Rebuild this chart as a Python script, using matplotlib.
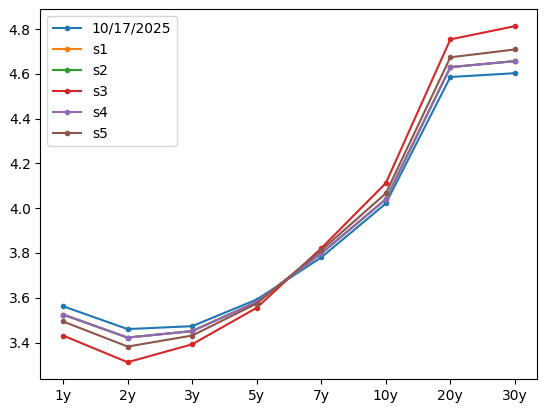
import matplotlib.pyplot as plt

# tenors on the x axis
tenors = ["1y", "2y", "3y", "5y", "7y", "10y", "20y", "30y"]

# curve values
base = [3.562, 3.460, 3.473, 3.592, 3.780, 4.021, 4.586, 4.603]
s1 = [3.525, 3.422, 3.451, 3.581, 3.798, 4.040, 4.630, 4.657]
s2 = [3.525, 3.422, 3.451, 3.581, 3.798, 4.040, 4.630, 4.657]
s3 = [3.431, 3.312, 3.392, 3.555, 3.821, 4.112, 4.754, 4.813]
s4 = [3.525, 3.422, 3.451, 3.581, 3.798, 4.040, 4.630, 4.657]
s5 = [3.494, 3.382, 3.431, 3.574, 3.812, 4.066, 4.674, 4.709]

labels = ["10/17/2025", "s1", "s2", "s3", "s4", "s5"]
series = [base, s1, s2, s3, s4, s5]

fig = plt.figure(figsize=(5.47, 4.13), dpi=100)
ax = fig.add_axes([0.074, 0.0823, 0.9086, 0.895])

for lab, vals in zip(labels, series):
    ax.plot(tenors, vals, marker=".", label=lab)

ax.legend(loc="upper left")

fig.savefig("out.png", dpi=100)
